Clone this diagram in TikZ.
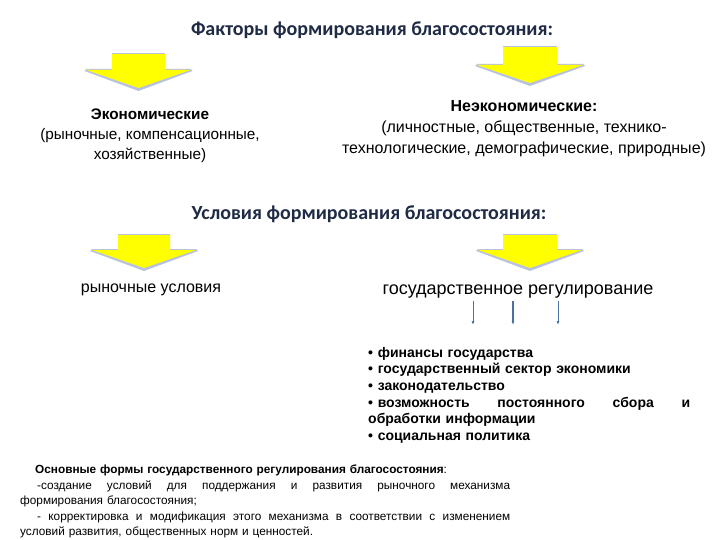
\documentclass[tikz,border=0pt]{standalone}
\usepackage{fontspec}
\setmainfont{Liberation Sans}
\newfontfamily\calib{Carlito}
\usetikzlibrary{arrows.meta}
\definecolor{navy}{HTML}{1F2A44}
\definecolor{arrowblue}{HTML}{4A72A0}
\definecolor{shad}{HTML}{B8C2DE}
\definecolor{yel}{HTML}{FFFF00}
\newcommand\yarrow[6]{%
  \fill[shad] ({#1-#5-2},{#4+1}) -- ({#1},{#6+3}) -- ({#1+#5+2},{#4+1}) -- ({#1+#5},{#4-1}) -- ({#1-#5},{#4-1}) -- cycle;
  \fill[yel] ({#1-#3},#2) -- ({#1+#3},#2) -- ({#1+#3},#4) -- ({#1+#5},#4) -- (#1,#6) -- ({#1-#5},#4) -- ({#1-#3},#4) -- cycle;
  \draw[shad, line width=1pt] ({#1-#3},#2) -- ({#1+#3},#2);
}
\begin{document}
\begin{tikzpicture}[x=1pt,y=-1pt,
  title/.style={font=\calib\bfseries\fontsize{20}{22}\selectfont, text=navy, inner sep=0pt},
  body/.style={align=center, inner sep=0pt},
  thin/.style={arrowblue, line width=0.9pt, -{Latex[length=4pt,width=3pt]}}]
\useasboundingbox (0,0) rectangle (720,540);

\node[title] (t1) at (372,30) {Факторы формирования благосостояния:};
\yarrow{138.5}{54}{26.5}{70}{52}{88}
\yarrow{530}{47}{27}{65}{53}{83}

\node[body, font=\fontsize{15.3}{20}\selectfont] (econ) at (150,136) {\textbf{Экономические}\\(рыночные, компенсационные,\\хозяйственные)};
\node[body, font=\fontsize{16}{21}\selectfont] (neecon) at (524,129) {\textbf{Неэкономические:}\\(личностные, общественные, технико-\\технологические, демографические, природные)};

\node[title] (t2) at (369,214) {Условия формирования благосостояния:};
\yarrow{144}{234}{26}{250}{52}{268}
\yarrow{530}{234}{27}{250}{52}{268}

\node[inner sep=0pt, font=\fontsize{16}{18}\selectfont] (ru) at (151,290) {рыночные условия};
\node[inner sep=0pt, font=\fontsize{18}{20}\selectfont] (gr) at (518,292) {государственное регулирование};

\coordinate (a1) at (473,325);
\coordinate (a2) at (513,325);
\coordinate (a3) at (558,325);
\draw[thin] ([yshift=-2pt]gr.south -| a1) -- (a1);
\draw[thin, line width=1.3pt] ([yshift=-2pt]gr.south -| a2) -- (a2);
\draw[thin] ([yshift=-2pt]gr.south -| a3) -- (a3);

\node[anchor=north west, inner sep=0pt, text width=322pt, align=left,
      font=\bfseries\fontsize{14}{16.6}\selectfont] (list) at (368,347) {%
• финансы государства\\
• государственный сектор экономики\\
• законодательство\\
• возможность\hfill постоянного\hfill сбора\hfill и\\
обработки информации\\
• социальная политика};

\node[anchor=north west, inner sep=0pt, text width=490pt, align=left,
      font=\fontsize{11.8}{15.5}\selectfont] (forms) at (20,465) {%
\hspace*{15pt}\textbf{Основные формы государственного регулирования благосостояния}:\\
\hspace*{17pt}-создание\hfill условий\hfill для\hfill поддержания\hfill и\hfill развития\hfill рыночного\hfill механизма\\
формирования благосостояния;\\
\hspace*{17pt}-\hfill корректировка\hfill и\hfill модификация\hfill этого\hfill механизма\hfill в\hfill соответствии\hfill с\hfill изменением\\
условий развития, общественных норм и ценностей.};
\end{tikzpicture}
\end{document}
